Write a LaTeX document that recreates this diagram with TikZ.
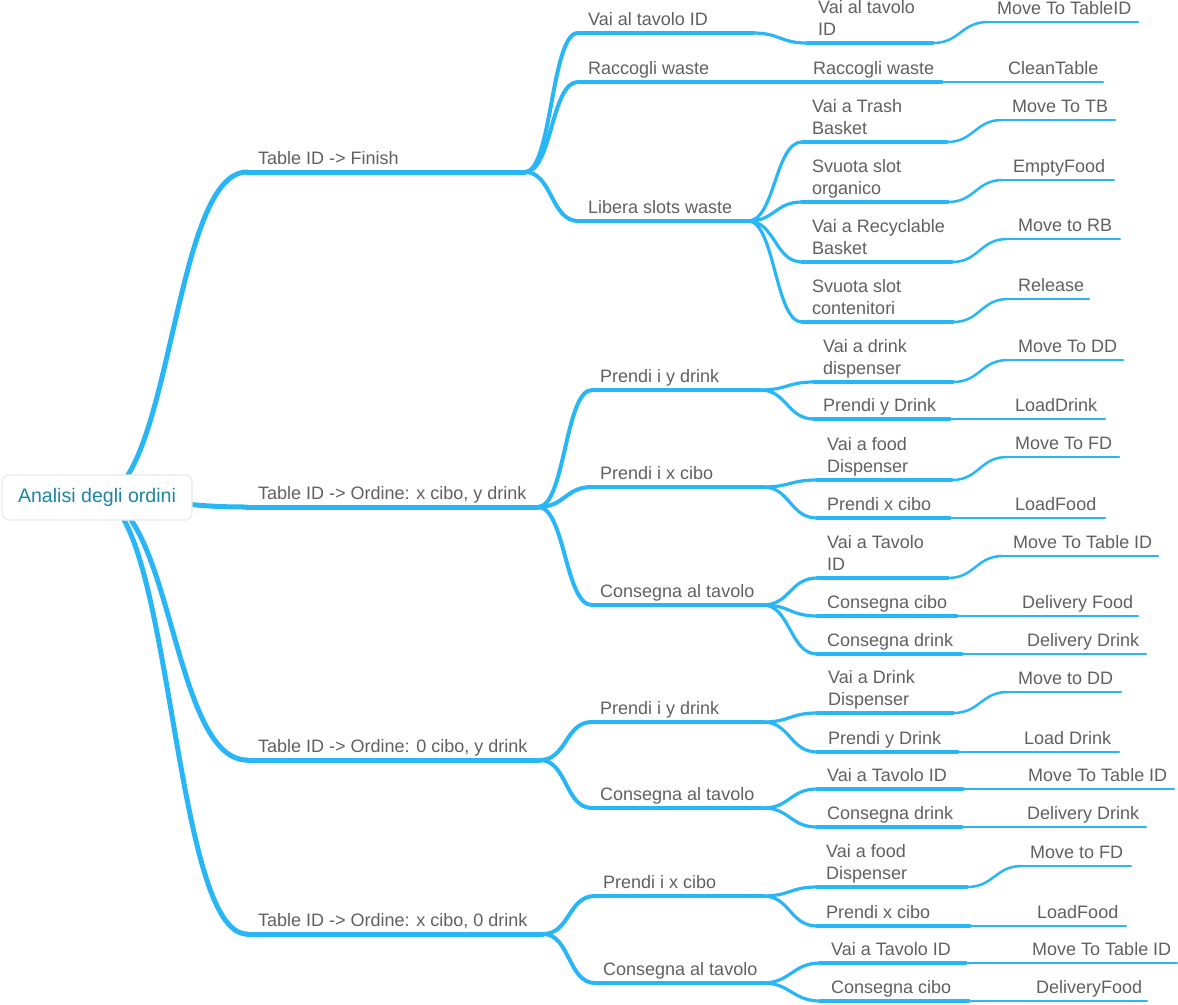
\documentclass[tikz,border=0pt]{standalone}
\usepackage{fontspec}
\setmainfont{Liberation Sans}
\usetikzlibrary{calc}
\pgfdeclarelayer{bg}
\pgfsetlayers{bg,main}
\definecolor{mmblue}{RGB}{41,182,246}
\definecolor{mmtext}{RGB}{96,96,96}
\definecolor{mmroot}{RGB}{28,134,164}
\definecolor{mmborder}{RGB}{234,234,234}
\tikzset{
  lvA/.style={draw=mmblue, line width=5pt, line cap=round},
  lvB/.style={draw=mmblue, line width=4pt, line cap=round},
  lvC/.style={draw=mmblue, line width=3.2pt, line cap=round},
  lvD/.style={draw=mmblue, line width=2.5pt, line cap=round},
  lbl/.style={inner sep=0pt, text=mmtext, font=\fontsize{18}{22}\selectfont, align=left, anchor=base west},
  rootbox/.style={draw=mmborder, fill=white, line width=1.2pt, rounded corners=7pt,
    minimum width=190pt, minimum height=45pt, text=mmroot, inner sep=0pt,
    font=\fontsize{19.6}{24}\selectfont},
}
% name, style, start x, end x, underline y, text x, last baseline y, text
\newcommand\mmnode[8]{%
  \coordinate (#1-s) at (#3,#5);
  \coordinate (#1-e) at (#4,#5);
  \draw[#2] (#1-s) -- (#1-e);
  \node[lbl] (#1) at (#6,#7) {#8};
}
\newcommand\mmlink[4]{\draw[#3] (#1) .. controls ($(#1)+(#4,0)$) and ($(#2)+(-#4,0)$) .. (#2);}
\begin{document}
\begin{tikzpicture}[x=1pt,y=-1pt]
\useasboundingbox (0,0) rectangle (1178,1004);
\node[rootbox] (root) at (97,497.5) {Analisi degli ordini};
% level 1
\mmnode{A}{lvA}{247}{525}{172}{258}{164}{Table ID -> Finish}
\mmnode{B}{lvA}{247}{538}{507}{258}{499}{Table ID -> Ordine: x cibo, y drink}
\mmnode{C}{lvA}{247}{540}{760}{258}{752}{Table ID -> Ordine: 0 cibo, y drink}
\mmnode{D}{lvA}{247}{543}{934}{258}{926}{Table ID -> Ordine: x cibo, 0 drink}
% level 2
\mmnode{A1}{lvB}{578}{753}{33}{588}{25}{Vai al tavolo ID}
\mmnode{A2}{lvB}{578}{747}{82}{588}{74}{Raccogli waste}
\mmnode{A3}{lvB}{578}{748}{221}{588}{213}{Libera slots waste}
\mmnode{B1}{lvB}{592}{760}{390}{600}{382}{Prendi i y drink}
\mmnode{B2}{lvB}{592}{763}{487}{600}{479}{Prendi i x cibo}
\mmnode{B3}{lvB}{592}{763}{605}{600}{597}{Consegna al tavolo}
\mmnode{C1}{lvB}{592}{763}{722}{600}{714}{Prendi i y drink}
\mmnode{C2}{lvB}{592}{763}{808}{600}{800}{Consegna al tavolo}
\mmnode{D1}{lvB}{595}{763}{896}{603}{888}{Prendi i x cibo}
\mmnode{D2}{lvB}{595}{763}{983}{603}{975}{Consegna al tavolo}
% level 3
\mmnode{A1a}{lvC}{807}{933}{43}{818}{35}{Vai al tavolo\\ID}
\mmnode{A2a}{lvC}{802}{942}{82}{813}{74}{Raccogli waste}
\mmnode{A3a}{lvC}{802}{947}{142}{812}{134}{Vai a Trash\\Basket}
\mmnode{A3b}{lvC}{802}{948}{202}{812}{194}{Svuota slot\\organico}
\mmnode{A3c}{lvC}{802}{952}{262}{812}{254}{Vai a Recyclable\\Basket}
\mmnode{A3d}{lvC}{802}{953}{322}{812}{314}{Svuota slot\\contenitori}
\mmnode{B1a}{lvC}{814}{953}{382}{823}{374}{Vai a drink\\dispenser}
\mmnode{B1b}{lvC}{814}{950}{419}{823}{411}{Prendi y Drink}
\mmnode{B2a}{lvC}{817}{952}{480}{827}{472}{Vai a food\\Dispenser}
\mmnode{B2b}{lvC}{817}{950}{518}{827}{510}{Prendi x cibo}
\mmnode{B3a}{lvC}{817}{948}{578}{827}{570}{Vai a Tavolo\\ID}
\mmnode{B3b}{lvC}{817}{957}{616}{827}{608}{Consegna cibo}
\mmnode{B3c}{lvC}{817}{962}{654}{827}{646}{Consegna drink}
\mmnode{C1a}{lvC}{817}{953}{713}{828}{705}{Vai a Drink\\Dispenser}
\mmnode{C1b}{lvC}{817}{958}{752}{828}{744}{Prendi y Drink}
\mmnode{C2a}{lvC}{817}{963}{789}{827}{781}{Vai a Tavolo ID}
\mmnode{C2b}{lvC}{817}{962}{827}{827}{819}{Consegna drink}
\mmnode{D1a}{lvC}{817}{967}{887}{826}{879}{Vai a food\\Dispenser}
\mmnode{D1b}{lvC}{817}{970}{926}{826}{918}{Prendi x cibo}
\mmnode{D2a}{lvC}{820}{966}{963}{831}{955}{Vai a Tavolo ID}
\mmnode{D2b}{lvC}{820}{969}{1001}{831}{993}{Consegna cibo}
% level 4
\mmnode{A1a1}{lvD}{988}{1138}{22}{997}{14}{Move To TableID}
\mmnode{A2a1}{lvD}{997}{1103}{82}{1008}{74}{CleanTable}
\mmnode{A3a1}{lvD}{1002}{1115}{120}{1012}{112}{Move To TB}
\mmnode{A3b1}{lvD}{1003}{1114}{180}{1013}{172}{EmptyFood}
\mmnode{A3c1}{lvD}{1007}{1120}{239}{1018}{231}{Move to RB}
\mmnode{A3d1}{lvD}{1008}{1089}{299}{1018}{291}{Release}
\mmnode{B1a1}{lvD}{1008}{1123}{360}{1018}{352}{Move To DD}
\mmnode{B1b1}{lvD}{1005}{1105}{419}{1015}{411}{LoadDrink}
\mmnode{B2a1}{lvD}{1007}{1119}{457}{1015}{449}{Move To FD}
\mmnode{B2b1}{lvD}{1005}{1105}{518}{1015}{510}{LoadFood}
\mmnode{B3a1}{lvD}{1003}{1158}{556}{1013}{548}{Move To Table ID}
\mmnode{B3b1}{lvD}{1012}{1138}{616}{1022}{608}{Delivery Food}
\mmnode{B3c1}{lvD}{1017}{1146}{654}{1027}{646}{Delivery Drink}
\mmnode{C1a1}{lvD}{1008}{1121}{692}{1018}{684}{Move to DD}
\mmnode{C1b1}{lvD}{1013}{1119}{752}{1024}{744}{Load Drink}
\mmnode{C2a1}{lvD}{1018}{1174}{789}{1028}{781}{Move To Table ID}
\mmnode{C2b1}{lvD}{1017}{1146}{827}{1027}{819}{Delivery Drink}
\mmnode{D1a1}{lvD}{1022}{1131}{866}{1030}{858}{Move to FD}
\mmnode{D1b1}{lvD}{1025}{1126}{926}{1037}{918}{LoadFood}
\mmnode{D2a1}{lvD}{1021}{1177}{963}{1032}{955}{Move To Table ID}
\mmnode{D2b1}{lvD}{1024}{1147}{1001}{1036}{993}{DeliveryFood}
\begin{pgfonlayer}{bg}
% root -> level 1
\mmlink{root.center}{A-s}{lvA}{75}
\mmlink{root.center}{B-s}{lvA}{75}
\mmlink{root.center}{C-s}{lvA}{75}
\mmlink{root.center}{D-s}{lvA}{75}
% level 1 -> level 2
\mmlink{A-e}{A1-s}{lvB}{27}
\mmlink{A-e}{A2-s}{lvB}{27}
\mmlink{A-e}{A3-s}{lvB}{27}
\mmlink{B-e}{B1-s}{lvB}{27}
\mmlink{B-e}{B2-s}{lvB}{27}
\mmlink{B-e}{B3-s}{lvB}{27}
\mmlink{C-e}{C1-s}{lvB}{27}
\mmlink{C-e}{C2-s}{lvB}{27}
\mmlink{D-e}{D1-s}{lvB}{27}
\mmlink{D-e}{D2-s}{lvB}{27}
% level 2 -> level 3
\mmlink{A1-e}{A1a-s}{lvC}{27}
\mmlink{A2-e}{A2a-s}{lvC}{27}
\mmlink{A3-e}{A3a-s}{lvC}{27}
\mmlink{A3-e}{A3b-s}{lvC}{27}
\mmlink{A3-e}{A3c-s}{lvC}{27}
\mmlink{A3-e}{A3d-s}{lvC}{27}
\mmlink{B1-e}{B1a-s}{lvC}{27}
\mmlink{B1-e}{B1b-s}{lvC}{27}
\mmlink{B2-e}{B2a-s}{lvC}{27}
\mmlink{B2-e}{B2b-s}{lvC}{27}
\mmlink{B3-e}{B3a-s}{lvC}{27}
\mmlink{B3-e}{B3b-s}{lvC}{27}
\mmlink{B3-e}{B3c-s}{lvC}{27}
\mmlink{C1-e}{C1a-s}{lvC}{27}
\mmlink{C1-e}{C1b-s}{lvC}{27}
\mmlink{C2-e}{C2a-s}{lvC}{27}
\mmlink{C2-e}{C2b-s}{lvC}{27}
\mmlink{D1-e}{D1a-s}{lvC}{27}
\mmlink{D1-e}{D1b-s}{lvC}{27}
\mmlink{D2-e}{D2a-s}{lvC}{27}
\mmlink{D2-e}{D2b-s}{lvC}{27}
% level 3 -> level 4
\mmlink{A1a-e}{A1a1-s}{lvD}{27}
\mmlink{A2a-e}{A2a1-s}{lvD}{27}
\mmlink{A3a-e}{A3a1-s}{lvD}{27}
\mmlink{A3b-e}{A3b1-s}{lvD}{27}
\mmlink{A3c-e}{A3c1-s}{lvD}{27}
\mmlink{A3d-e}{A3d1-s}{lvD}{27}
\mmlink{B1a-e}{B1a1-s}{lvD}{27}
\mmlink{B1b-e}{B1b1-s}{lvD}{27}
\mmlink{B2a-e}{B2a1-s}{lvD}{27}
\mmlink{B2b-e}{B2b1-s}{lvD}{27}
\mmlink{B3a-e}{B3a1-s}{lvD}{27}
\mmlink{B3b-e}{B3b1-s}{lvD}{27}
\mmlink{B3c-e}{B3c1-s}{lvD}{27}
\mmlink{C1a-e}{C1a1-s}{lvD}{27}
\mmlink{C1b-e}{C1b1-s}{lvD}{27}
\mmlink{C2a-e}{C2a1-s}{lvD}{27}
\mmlink{C2b-e}{C2b1-s}{lvD}{27}
\mmlink{D1a-e}{D1a1-s}{lvD}{27}
\mmlink{D1b-e}{D1b1-s}{lvD}{27}
\mmlink{D2a-e}{D2a1-s}{lvD}{27}
\mmlink{D2b-e}{D2b1-s}{lvD}{27}
\end{pgfonlayer}
\end{tikzpicture}
\end{document}
